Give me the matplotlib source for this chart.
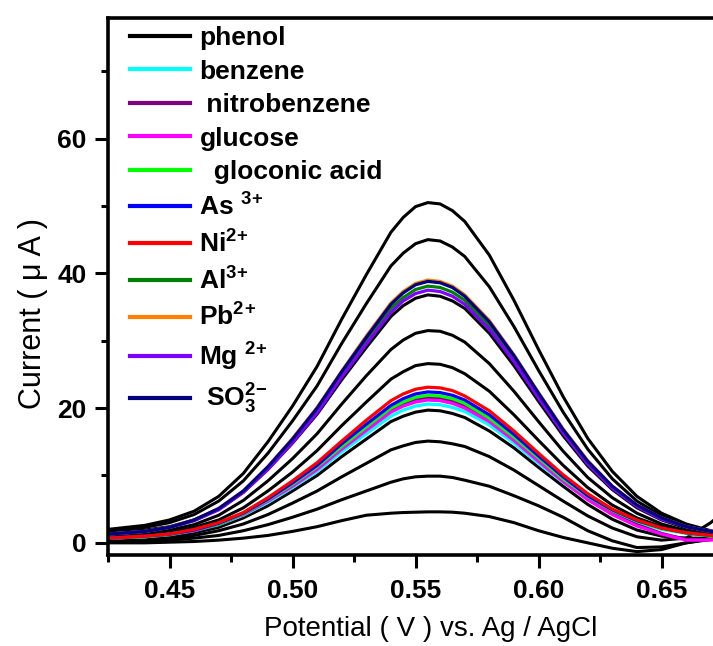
import matplotlib
matplotlib.use("Agg")
import matplotlib.pyplot as plt
from matplotlib.ticker import MultipleLocator

plt.rcParams['font.family'] = ['Liberation Sans', 'DejaVu Sans']
plt.rcParams['mathtext.fontset'] = 'custom'
plt.rcParams['mathtext.rm'] = 'Liberation Sans:bold'
plt.rcParams['mathtext.it'] = 'Liberation Sans:bold'
plt.rcParams['mathtext.bf'] = 'Liberation Sans:bold'
plt.rcParams['mathtext.default'] = 'rm'

# potential (V) grid shared by every curve
potential = [0.425, 0.44, 0.45, 0.46, 0.47, 0.48, 0.49, 0.50, 0.51, 0.52, 0.53, 0.54, 0.545,
             0.55, 0.555, 0.56, 0.565, 0.57, 0.58, 0.59, 0.60, 0.61, 0.62, 0.63, 0.64, 0.65,
             0.66, 0.67, 0.675]

# phenol additions (black curves), current in uA
phenol_1 = [0.0, 0.0, 0.1, 0.2, 0.4, 0.7, 1.1, 1.7, 2.4, 3.3, 4.1, 4.4, 4.5, 4.55, 4.6, 4.6,
            4.55, 4.4, 3.9, 3.0, 1.8, 0.8, 0.0, -0.8, -1.3, -1.0, 0.0, 0.6, 0.8]
phenol_2 = [0.1, 0.3, 0.4, 0.7, 1.1, 1.8, 2.7, 3.8, 5.0, 6.4, 7.7, 9.0, 9.5, 9.8, 9.9, 9.9,
            9.7, 9.3, 8.4, 7.0, 5.5, 3.8, 1.8, 0.3, -0.7, -0.6, 0.0, 0.5, 0.7]
phenol_3 = [0.3, 0.4, 0.7, 1.1, 1.8, 2.8, 4.2, 5.9, 7.7, 9.8, 11.8, 13.8, 14.4, 14.9, 15.1, 15.0,
            14.7, 14.3, 12.8, 10.8, 8.5, 6.2, 4.0, 2.2, 0.9, 0.4, 0.7, 3.0, 4.5]
phenol_4 = [0.4, 0.6, 0.9, 1.5, 2.3, 3.7, 5.5, 7.7, 10.0, 12.8, 15.4, 18.0, 18.8, 19.4, 19.7, 19.6,
            19.2, 18.6, 16.6, 14.1, 11.2, 8.4, 5.7, 3.5, 1.9, 1.0, 0.7, 0.7, 0.7]
phenol_5 = [0.8, 1.1, 1.5, 2.3, 3.4, 5.2, 7.7, 10.5, 13.7, 17.4, 20.9, 24.3, 25.4, 26.3, 26.6, 26.5,
            26.0, 25.1, 22.5, 19.0, 15.2, 11.5, 8.2, 5.6, 3.7, 2.4, 1.5, 1.0, 0.9]
phenol_6 = [1.1, 1.4, 1.9, 2.7, 4.1, 6.3, 9.2, 12.5, 16.2, 20.6, 24.8, 28.7, 30.1, 31.1, 31.5, 31.4,
            30.8, 29.8, 26.6, 22.5, 18.0, 13.6, 9.7, 6.7, 4.4, 2.8, 1.8, 1.2, 1.1]
phenol_7 = [1.5, 1.9, 2.4, 3.4, 5.0, 7.5, 10.9, 14.8, 19.1, 24.2, 29.0, 33.6, 35.2, 36.3, 36.8, 36.6,
            35.9, 34.8, 31.1, 26.3, 21.0, 15.9, 11.4, 7.9, 5.2, 3.4, 2.2, 1.6, 1.3]
phenol_8 = [1.8, 2.3, 3.0, 4.2, 6.2, 9.2, 13.3, 18.1, 23.3, 29.6, 35.5, 41.1, 43.0, 44.4, 45.0, 44.8,
            43.9, 42.5, 38.0, 32.1, 25.6, 19.4, 13.9, 9.5, 6.2, 4.0, 2.6, 1.7, 1.5]
phenol_9 = [2.0, 2.6, 3.4, 4.7, 6.9, 10.3, 15.0, 20.3, 26.2, 33.2, 39.8, 46.1, 48.3, 49.9, 50.5, 50.3,
            49.3, 47.7, 42.7, 36.0, 28.7, 21.7, 15.5, 10.6, 6.9, 4.4, 2.8, 1.8, 1.5]

# interferents
benzene = [0.7, 0.9, 1.2, 1.8, 2.7, 4.1, 6.0, 8.2, 10.6, 13.5, 16.2, 18.8, 19.7, 20.3, 20.6, 20.5,
           20.1, 19.5, 17.5, 14.8, 11.8, 9.0, 6.5, 4.5, 3.1, 2.0, 1.4, 1.0, 0.9]
nitrobenzene = [0.7, 0.9, 1.3, 1.9, 2.8, 4.3, 6.3, 8.6, 11.1, 14.1, 17.0, 19.7, 20.7, 21.3, 21.6, 21.5,
                21.1, 20.4, 18.3, 15.5, 12.3, 9.2, 6.5, 4.3, 2.7, 1.4, 0.5, 0.5, 0.7]
glucose = [0.7, 0.9, 1.3, 1.8, 2.8, 4.2, 6.2, 8.4, 10.9, 13.9, 16.7, 19.4, 20.3, 20.9, 21.2, 21.1,
           20.7, 20.0, 18.0, 15.2, 12.1, 9.1, 6.4, 4.2, 2.5, 1.3, 0.4, 0.4, 0.6]
gluconic = [0.7, 0.9, 1.3, 1.9, 2.8, 4.3, 6.4, 8.7, 11.3, 14.3, 17.2, 20.0, 20.9, 21.6, 21.9, 21.8,
            21.4, 20.7, 18.5, 15.7, 12.6, 9.5, 6.9, 4.8, 3.2, 2.1, 1.5, 1.0, 0.9]
arsenic = [0.7, 1.0, 1.3, 1.9, 2.9, 4.4, 6.5, 8.9, 11.5, 14.7, 17.6, 20.4, 21.4, 22.1, 22.4, 22.3,
           21.9, 21.2, 19.0, 16.1, 12.9, 9.8, 7.0, 4.9, 3.3, 2.2, 1.5, 1.1, 0.9]
nickel = [0.7, 1.0, 1.3, 2.0, 3.0, 4.5, 6.7, 9.2, 11.9, 15.1, 18.2, 21.1, 22.1, 22.8, 23.1, 23.0,
          22.6, 21.8, 19.6, 16.6, 13.3, 10.1, 7.3, 5.0, 3.4, 2.2, 1.5, 1.1, 0.9]
aluminium = [1.3, 1.7, 2.3, 3.3, 5.0, 7.6, 11.1, 15.2, 19.6, 25.0, 30.0, 34.8, 36.4, 37.6, 38.1, 37.9,
             37.2, 36.0, 32.2, 27.3, 21.8, 16.5, 11.9, 8.2, 5.5, 3.6, 2.4, 1.7, 1.4]
lead = [1.3, 1.7, 2.3, 3.4, 5.1, 7.7, 11.3, 15.5, 20.1, 25.5, 30.7, 35.6, 37.3, 38.5, 39.0, 38.8,
        38.1, 36.8, 33.0, 27.9, 22.3, 16.9, 12.2, 8.4, 5.6, 3.7, 2.4, 1.7, 1.5]
magnesium = [1.3, 1.7, 2.3, 3.3, 4.9, 7.5, 10.9, 14.9, 19.3, 24.6, 29.5, 34.2, 35.9, 37.0, 37.5, 37.3,
             36.6, 35.4, 31.7, 26.9, 21.5, 16.3, 11.7, 8.1, 5.4, 3.5, 2.4, 1.7, 1.4]
sulfite = [1.3, 1.7, 2.3, 3.4, 5.1, 7.7, 11.3, 15.4, 20.0, 25.4, 30.5, 35.4, 37.1, 38.3, 38.8, 38.6,
           37.9, 36.6, 32.8, 27.8, 22.2, 16.8, 12.1, 8.4, 5.6, 3.7, 2.4, 1.7, 1.5]

phenol_curves = [phenol_1, phenol_2, phenol_3, phenol_4, phenol_5, phenol_6, phenol_7, phenol_8, phenol_9]
others = [benzene, nitrobenzene, glucose, gluconic, arsenic, nickel, aluminium, lead, magnesium, sulfite]
other_labels = ['benzene', ' nitrobenzene', 'glucose', '  gloconic acid', 'As $^{3}$$^{+}$',
                'Ni$^{2}$$^{+}$', 'Al$^{3}$$^{+}$', 'Pb$^{2}$$^{+}$', 'Mg $^{2}$$^{+}$',
                ' SO$_3^{2}$$^{-}$']
other_colors = ['#00FFFF', '#800080', '#FF00FF', '#00FF00', '#0000FF', '#FF0000',
                '#008000', '#FF8000', '#8000FF', '#000080']

fig = plt.figure(figsize=(7.13, 6.46), dpi=100)
ax = fig.add_axes([0.1515, 0.1409, 0.8626, 0.8313])

for k, c in enumerate(phenol_curves):
    ax.plot(potential, c, color='black', lw=2.2, solid_joinstyle='round',
            label='phenol' if k == 0 else None)
for c, lab, col in zip(others, other_labels, other_colors):
    ax.plot(potential, c, color=col, lw=2.3, solid_joinstyle='round', label=lab)

ax.set_xlim(0.425, 0.675)
ax.set_ylim(-1.8, 77.9)
ax.xaxis.set_minor_locator(MultipleLocator(0.025))
ax.yaxis.set_major_locator(MultipleLocator(20))
ax.yaxis.set_minor_locator(MultipleLocator(10))
ax.set_xticks([0.45, 0.50, 0.55, 0.60, 0.65])
ax.set_xticklabels(['0.45', '0.50', '0.55', '0.60', '0.65'])

for s in ax.spines.values():
    s.set_linewidth(2.6)
ax.tick_params(which='major', direction='out', length=9.5, width=2.2, labelsize=19, pad=8)
ax.tick_params(which='minor', direction='out', length=5, width=2.2)
ax.tick_params(axis='y', which='major', pad=6)
for t in ax.get_xticklabels() + ax.get_yticklabels():
    t.set_fontweight('bold')

ax.set_xlabel('Potential ( V ) vs. Ag / AgCl', fontsize=20)
ax.xaxis.set_label_coords(0.525, -0.113)
ax.set_ylabel('Current ( \u03bc A )', fontsize=22)
ax.yaxis.set_label_coords(-0.097, 0.45)

leg = ax.legend(loc='upper left', bbox_to_anchor=(0.035, 0.985), frameon=False,
                prop={'weight': 'bold', 'size': 19}, handlelength=2.3, handletextpad=0.35,
                labelspacing=0.36, borderaxespad=0, borderpad=0)
for line in leg.get_lines():
    line.set_linewidth(3)

fig.savefig('out.png', dpi=100)
